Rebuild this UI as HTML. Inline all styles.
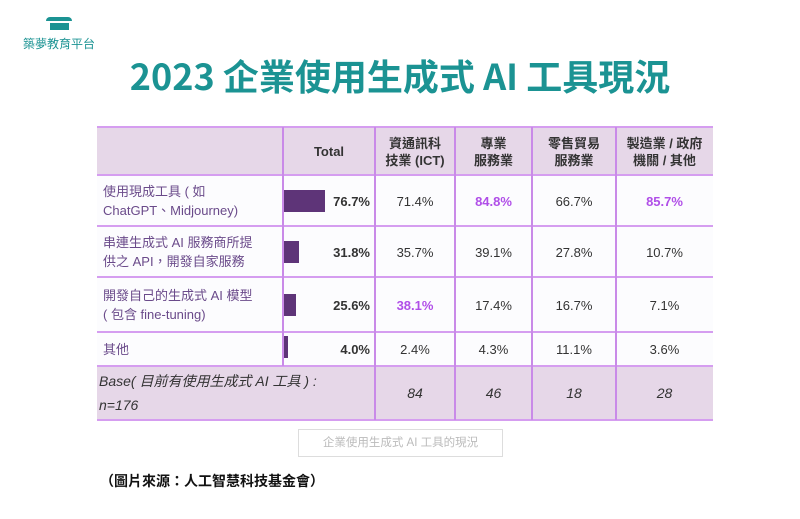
<!DOCTYPE html>
<html><head><meta charset="utf-8"><style>
body{margin:0;width:800px;height:519px;background:#fff;position:relative;overflow:hidden;font-family:"Liberation Sans","Noto Sans CJK TC",sans-serif}
.a{position:absolute}
.t{font-weight:bold;color:#1b9393;font-size:36px;left:0;width:800px;text-align:center;top:49px;font-family:"Noto Sans CJK TC",sans-serif}
.c{position:absolute;display:flex;align-items:center;justify-content:center;text-align:center;font-size:13px;color:#333;line-height:17px}
.l{justify-content:flex-start;text-align:left;color:#6a4a8a;padding-left:6px;font-size:13px}
.p{color:#b04ee8;font-weight:bold}
.b{position:absolute;background:#5e3478}
</style></head><body>
<div class="a" style="left:46px;top:17px;width:26px;height:4px;background:#1b9393;border-radius:8px 8px 0 0"></div>
<div class="a" style="left:50px;top:23px;width:19px;height:7px;background:#1b9393"></div>
<div class="a" style="left:23px;top:35px;font-size:12px;color:#1b9393;font-family:'Noto Sans CJK TC',sans-serif">築夢教育平台</div>
<div class="a t">2023 企業使用生成式 AI 工具現況</div>

<div class="a" style="left:97px;top:127px;width:616px;height:48px;background:#e6d7e8"></div>
<div class="a" style="left:97px;top:366px;width:616px;height:54px;background:#e6d7e8"></div>
<div class="a" style="left:97px;top:175px;width:616px;height:191px;background:#fcfcfe"></div>
<div class="a" style="left:97px;top:126px;width:616px;height:2px;background:#d59df0"></div>
<div class="a" style="left:97px;top:174px;width:616px;height:2px;background:#d59df0"></div>
<div class="a" style="left:97px;top:225px;width:616px;height:2px;background:#d59df0"></div>
<div class="a" style="left:97px;top:276px;width:616px;height:2px;background:#d59df0"></div>
<div class="a" style="left:97px;top:331px;width:616px;height:2px;background:#d59df0"></div>
<div class="a" style="left:97px;top:365px;width:616px;height:2px;background:#d59df0"></div>
<div class="a" style="left:97px;top:419px;width:616px;height:2px;background:#d59df0"></div>
<div class="a" style="left:282px;top:127px;width:2px;height:239px;background:#c98ae8"></div>
<div class="a" style="left:374px;top:127px;width:2px;height:293px;background:#c98ae8"></div>
<div class="a" style="left:454px;top:127px;width:2px;height:293px;background:#c98ae8"></div>
<div class="a" style="left:531px;top:127px;width:2px;height:293px;background:#c98ae8"></div>
<div class="a" style="left:615px;top:127px;width:2px;height:293px;background:#c98ae8"></div>

<div class="c" style="left:283px;top:128px;width:92px;height:47px;font-weight:bold">Total</div>
<div class="c" style="left:375px;top:128px;width:80px;height:47px;font-weight:bold">資通訊科<br>技業 (ICT)</div>
<div class="c" style="left:455px;top:128px;width:77px;height:47px;font-weight:bold">專業<br>服務業</div>
<div class="c" style="left:532px;top:128px;width:84px;height:47px;font-weight:bold">零售貿易<br>服務業</div>
<div class="c" style="left:616px;top:128px;width:97px;height:47px;font-weight:bold">製造業 / 政府<br>機關 / 其他</div>

<div class="c l" style="left:97px;top:176px;width:180px;height:50px;line-height:19px">使用現成工具 ( 如<br>ChatGPT、Midjourney)</div>
<div class="b" style="left:284px;top:190px;width:41px;height:22px"></div>
<div class="c" style="left:325px;top:176px;width:45px;height:50px;font-weight:bold;justify-content:flex-end">76.7%</div>
<div class="c" style="left:375px;top:176px;width:80px;height:50px">71.4%</div>
<div class="c p" style="left:455px;top:176px;width:77px;height:50px">84.8%</div>
<div class="c" style="left:532px;top:176px;width:84px;height:50px">66.7%</div>
<div class="c p" style="left:616px;top:176px;width:97px;height:50px">85.7%</div>

<div class="c l" style="left:97px;top:227px;width:180px;height:50px;line-height:19px">串連生成式 AI 服務商所提<br>供之 API，開發自家服務</div>
<div class="b" style="left:284px;top:241px;width:15px;height:22px"></div>
<div class="c" style="left:325px;top:227px;width:45px;height:50px;font-weight:bold;justify-content:flex-end">31.8%</div>
<div class="c" style="left:375px;top:227px;width:80px;height:50px">35.7%</div>
<div class="c" style="left:455px;top:227px;width:77px;height:50px">39.1%</div>
<div class="c" style="left:532px;top:227px;width:84px;height:50px">27.8%</div>
<div class="c" style="left:616px;top:227px;width:97px;height:50px">10.7%</div>

<div class="c l" style="left:97px;top:278px;width:180px;height:54px;line-height:19px">開發自己的生成式 AI 模型<br>( 包含 fine-tuning)</div>
<div class="b" style="left:284px;top:294px;width:12px;height:22px"></div>
<div class="c" style="left:325px;top:278px;width:45px;height:54px;font-weight:bold;justify-content:flex-end">25.6%</div>
<div class="c p" style="left:375px;top:278px;width:80px;height:54px">38.1%</div>
<div class="c" style="left:455px;top:278px;width:77px;height:54px">17.4%</div>
<div class="c" style="left:532px;top:278px;width:84px;height:54px">16.7%</div>
<div class="c" style="left:616px;top:278px;width:97px;height:54px">7.1%</div>

<div class="c l" style="left:97px;top:333px;width:180px;height:33px">其他</div>
<div class="b" style="left:284px;top:336px;width:4px;height:22px"></div>
<div class="c" style="left:325px;top:333px;width:45px;height:33px;font-weight:bold;justify-content:flex-end">4.0%</div>
<div class="c" style="left:375px;top:333px;width:80px;height:33px">2.4%</div>
<div class="c" style="left:455px;top:333px;width:77px;height:33px">4.3%</div>
<div class="c" style="left:532px;top:333px;width:84px;height:33px">11.1%</div>
<div class="c" style="left:616px;top:333px;width:97px;height:33px">3.6%</div>

<div class="a" style="left:99px;top:369px;font-size:14px;font-style:italic;color:#333;line-height:24px">Base( 目前有使用生成式 AI 工具 ) :<br>n=176</div>
<div class="c" style="left:375px;top:367px;width:80px;height:53px;font-style:italic;font-size:14px">84</div>
<div class="c" style="left:455px;top:367px;width:77px;height:53px;font-style:italic;font-size:14px">46</div>
<div class="c" style="left:532px;top:367px;width:84px;height:53px;font-style:italic;font-size:14px">18</div>
<div class="c" style="left:616px;top:367px;width:97px;height:53px;font-style:italic;font-size:14px">28</div>

<div class="c" style="left:298px;top:429px;width:203px;height:26px;border:1px solid #ddd;color:#bbb;font-size:11.5px">企業使用生成式 AI 工具的現況</div>
<div class="a" style="left:100px;top:471px;font-size:14px;font-weight:bold;color:#111;font-family:'Noto Sans CJK TC',sans-serif">（圖片來源：人工智慧科技基金會）</div>
</body></html>
